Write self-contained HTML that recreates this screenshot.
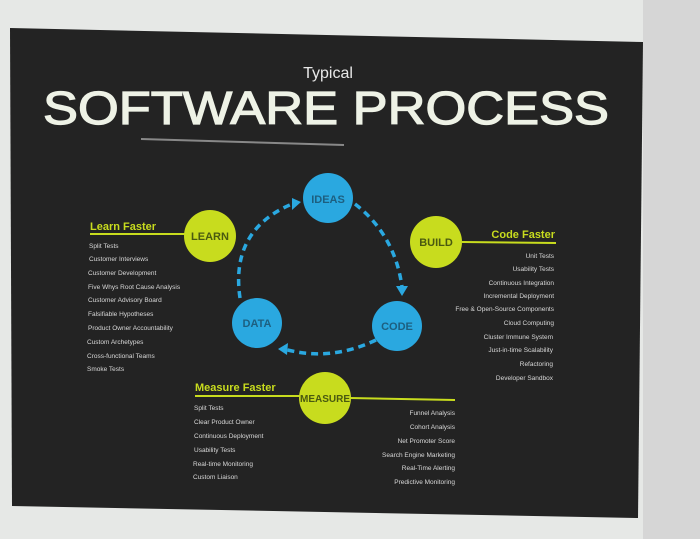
<!DOCTYPE html>
<html><head><style>
html,body{margin:0;padding:0;width:700px;height:539px;overflow:hidden;background:#e4e6e4;}
svg{display:block}
text{font-family:"Liberation Sans",sans-serif;}
</style></head><body>
<svg width="700" height="539" viewBox="0 0 700 539">
<rect x="0" y="0" width="700" height="539" fill="#e6e8e6"/>
<rect x="643" y="0" width="57" height="539" fill="#d6d6d6"/>
<polygon points="10,28 643,42 638,518 12,506" fill="#232323"/>
<text x="328" y="78" fill="#e8e8e8" font-size="16" text-anchor="middle">Typical</text>
<text x="326" y="124" fill="#eef2e6" stroke="#eef2e6" stroke-width="1.2" font-size="46" text-anchor="middle" textLength="566" lengthAdjust="spacingAndGlyphs">SOFTWARE PROCESS</text>
<line x1="141" y1="139" x2="344" y2="145" stroke="#888" stroke-width="2"/>
<g fill="none" stroke="#2aa8e0" stroke-width="3.5" stroke-dasharray="7,5">
<path d="M355,204 Q395,235 402,287"/>
<path d="M376,340 Q330,362 284,349"/>
<path d="M240,298 Q230,230 292,204"/>
</g>
<g fill="#2aa8e0">
<polygon points="396,286 408,286 402,296"/>
<polygon points="278,349 288,343 287,355"/>
<polygon points="292,198 301,202 292,210"/>
</g>
<g stroke="#c8dc1e" stroke-width="2">
<line x1="90" y1="234" x2="186" y2="234"/>
<line x1="462" y1="242" x2="556" y2="243"/>
<line x1="195" y1="396" x2="300" y2="396"/>
<line x1="350" y1="398" x2="455" y2="400"/>
</g>
<g fill="#2aa8e0">
<circle cx="328" cy="198" r="25"/><circle cx="257" cy="323" r="25"/><circle cx="397" cy="326" r="25"/>
</g>
<g fill="#c8dc1e">
<circle cx="210" cy="236" r="26"/><circle cx="436" cy="242" r="26"/><circle cx="325" cy="398" r="26"/>
</g>
<g font-size="11" fill="#1d5f80" text-anchor="middle" font-weight="bold">
<text x="328" y="203">IDEAS</text><text x="257" y="327">DATA</text><text x="397" y="330">CODE</text>
</g>
<g font-size="11" fill="#4a5a10" text-anchor="middle" font-weight="bold">
<text x="210" y="240">LEARN</text><text x="436" y="246">BUILD</text><text x="325" y="402" font-size="10">MEASURE</text>
</g>
<g font-size="11" fill="#c8dc1e" font-weight="bold">
<text x="90" y="230">Learn Faster</text>
<text x="555" y="238" text-anchor="end">Code Faster</text>
<text x="195" y="391">Measure Faster</text>
</g>
<g font-size="6.5" fill="#d8d8d8">
<text x="89" y="248">Split Tests</text>
<text x="89" y="261">Customer Interviews</text>
<text x="88" y="275">Customer Development</text>
<text x="88" y="289">Five Whys Root Cause Analysis</text>
<text x="88" y="302">Customer Advisory Board</text>
<text x="88" y="316">Falsifiable Hypotheses</text>
<text x="88" y="330">Product Owner Accountability</text>
<text x="87" y="344">Custom Archetypes</text>
<text x="87" y="358">Cross-functional Teams</text>
<text x="87" y="371">Smoke Tests</text>
</g>
<g font-size="6.5" fill="#d8d8d8" text-anchor="end">
<text x="554" y="258">Unit Tests</text>
<text x="554" y="271">Usability Tests</text>
<text x="554" y="285">Continuous Integration</text>
<text x="554" y="298">Incremental Deployment</text>
<text x="554" y="311">Free &amp; Open-Source Components</text>
<text x="554" y="325">Cloud Computing</text>
<text x="553" y="339">Cluster Immune System</text>
<text x="553" y="352">Just-in-time Scalability</text>
<text x="553" y="366">Refactoring</text>
<text x="553" y="380">Developer Sandbox</text>
</g>
<g font-size="6.5" fill="#d8d8d8">
<text x="194" y="410">Split Tests</text>
<text x="194" y="424">Clear Product Owner</text>
<text x="194" y="438">Continuous Deployment</text>
<text x="194" y="452">Usability Tests</text>
<text x="193" y="466">Real-time Monitoring</text>
<text x="193" y="479">Custom Liaison</text>
</g>
<g font-size="6.5" fill="#d8d8d8" text-anchor="end">
<text x="455" y="415">Funnel Analysis</text>
<text x="455" y="429">Cohort Analysis</text>
<text x="455" y="443">Net Promoter Score</text>
<text x="455" y="457">Search Engine Marketing</text>
<text x="455" y="470">Real-Time Alerting</text>
<text x="455" y="484">Predictive Monitoring</text>
</g>
</svg>
</body></html>
